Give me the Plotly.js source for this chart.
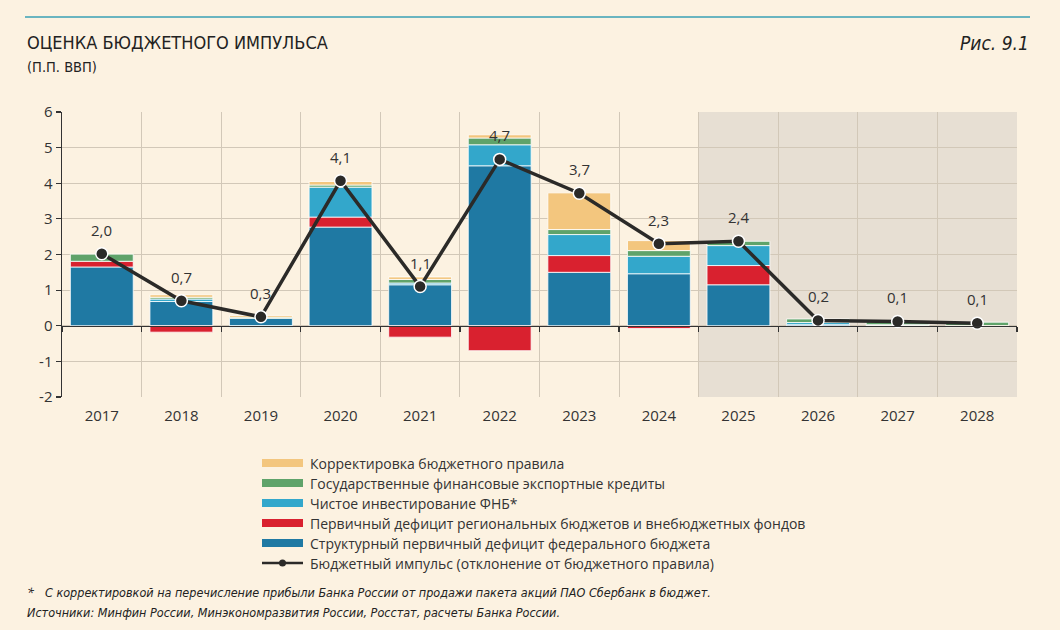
<!DOCTYPE html>
<html>
<head>
<meta charset="utf-8">
<script src="https://cdn.plot.ly/plotly-3.0.1.min.js"></script>
<style>
  html, body { margin: 0; padding: 0; background: #FCF2E1; }
  #chart { width: 1060px; height: 630px; }
</style>
</head>
<body>
<div id="chart"></div>
<script>
// ---- Data ----
const years = ['2017','2018','2019','2020','2021','2022','2023','2024','2025','2026','2027','2028'];
const structuralFederal = [1.65, 0.68, 0.21, 2.77, 1.15, 4.49, 1.50, 1.46, 1.15, 0.03, 0.01, null];
const regionalDeficit   = [0.16, -0.18, null, 0.28, -0.32, -0.70, 0.47, -0.08, 0.54, null, null, null];
const fnbInvestment     = [null, 0.07, -0.04, 0.84, 0.05, 0.59, 0.59, 0.49, 0.56, 0.06, 0.02, null];
const exportCredits     = [0.20, 0.05, 0.03, 0.06, 0.10, 0.19, 0.14, 0.16, 0.12, 0.10, 0.08, 0.10];
const ruleCorrection    = [null, 0.07, 0.05, 0.10, 0.07, 0.09, 1.03, 0.28, null, null, -0.02, -0.03];
const budgetImpulse     = [2.02, 0.70, 0.25, 4.07, 1.10, 4.67, 3.72, 2.30, 2.37, 0.15, 0.12, 0.07];
const impulseLabels     = ['2,0','0,7','0,3','4,1','1,1','4,7','3,7','2,3','2,4','0,2','0,1','0,1'];
const forecastYears     = ['2025','2026','2027','2028'];

const seriesNames = [
  'Корректировка бюджетного правила',
  'Государственные финансовые экспортные кредиты',
  'Чистое инвестирование ФНБ*',
  'Первичный дефицит региональных бюджетов и внебюджетных фондов',
  'Структурный первичный дефицит федерального бюджета',
  'Бюджетный импульс (отклонение от бюджетного правила)'
];
const yTicks = [-2, -1, 0, 1, 2, 3, 4, 5, 6];

// ---- Styles ----
const C = {
  blue: '#1F79A3', red: '#D9212F', lblue: '#33A7CB', green: '#5FA36A', orange: '#F3C67E',
  line: '#2B2A28', bg: '#FCF2E1', forecast: '#E7DFD3', grid: '#D2C8B8', text: '#333333'
};
const FONT = 'Open Sans, Noto Sans, DejaVu Sans, sans-serif';
const NARROW = 'Liberation Sans Narrow, DejaVu Sans Condensed, Roboto, sans-serif';

function barTrace(name, vals, color) {
  return {
    type: 'bar', name: name, x: years, y: vals,
    marker: { color: color, line: { color: '#FFFFFF', width: 0.8 } },
    width: 0.79, hoverinfo: 'x+y+name', showlegend: false
  };
}

const traces = [
  barTrace(seriesNames[4], structuralFederal, C.blue),
  barTrace(seriesNames[3], regionalDeficit, C.red),
  barTrace(seriesNames[2], fnbInvestment, C.lblue),
  barTrace(seriesNames[1], exportCredits, C.green),
  barTrace(seriesNames[0], ruleCorrection, C.orange),
  {
    type: 'scatter', mode: 'lines+markers', name: seriesNames[5],
    x: years, y: budgetImpulse,
    line: { color: C.line, width: 3.5 },
    marker: { color: C.line, size: 12, line: { color: '#FFFFFF', width: 1.5 } },
    showlegend: false
  },
  // invisible trace to carry the zero-line axis with boundary ticks
  { type: 'scatter', mode: 'markers', x: years, y: years.map(() => 0), xaxis: 'x2',
    marker: { opacity: 0 }, hoverinfo: 'skip', showlegend: false }
];

// paper-coordinate helpers (plot area: x 62..1017, y 112..397)
const px = v => (v - 62) / 955;
const py = v => (397 - v) / 285;

const annotations = [];
const shapes = [];

// value labels above the impulse markers (category serial numbers)
years.forEach((yr, i) => {
  annotations.push({
    x: i, y: budgetImpulse[i], xref: 'x', yref: 'y', text: impulseLabels[i],
    showarrow: false, yshift: 24, font: { family: FONT, size: 15, color: C.text }
  });
});

// forecast shading
shapes.push({
  type: 'rect', xref: 'x', yref: 'paper',
  x0: years.indexOf(forecastYears[0]) - 0.5, x1: years.indexOf(forecastYears[forecastYears.length - 1]) + 0.5,
  y0: 0, y1: 1, fillcolor: C.forecast, line: { width: 0 }, layer: 'below'
});

// header
shapes.push({ type: 'line', xref: 'paper', yref: 'paper', x0: px(25), x1: px(1030), y0: py(17), y1: py(17),
  line: { color: '#3AA1B5', width: 1.5 } });
annotations.push({ xref: 'paper', yref: 'paper', x: px(25), y: py(43), xanchor: 'left', yanchor: 'middle',
  text: 'ОЦЕНКА БЮДЖЕТНОГО ИМПУЛЬСА', showarrow: false, font: { family: NARROW, size: 18, color: '#222' } });
annotations.push({ xref: 'paper', yref: 'paper', x: px(25), y: py(67), xanchor: 'left', yanchor: 'middle',
  text: '(П.П. ВВП)', showarrow: false, font: { family: NARROW, size: 14.5, color: '#222' } });
annotations.push({ xref: 'paper', yref: 'paper', x: px(1031), y: py(43), xanchor: 'right', yanchor: 'middle',
  text: '<i>Рис. 9.1</i>', showarrow: false, font: { family: NARROW, size: 19, color: '#222' } });

// custom legend
const legendColors = [C.orange, C.green, C.lblue, C.red, C.blue];
seriesNames.forEach((name, i) => {
  const yy = 463 + i * 20;
  if (i < 5) {
    shapes.push({ type: 'rect', xref: 'paper', yref: 'paper', x0: px(262), x1: px(303),
      y0: py(yy + 4), y1: py(yy - 4), fillcolor: legendColors[i], line: { width: 0 } });
  } else {
    shapes.push({ type: 'line', xref: 'paper', yref: 'paper', x0: px(262), x1: px(303),
      y0: py(yy), y1: py(yy), line: { color: C.line, width: 2.5 } });
    shapes.push({ type: 'circle', xref: 'paper', yref: 'paper', x0: px(279), x1: px(286),
      y0: py(yy + 3.5), y1: py(yy - 3.5), fillcolor: C.line, line: { width: 0 } });
  }
  annotations.push({ xref: 'paper', yref: 'paper', x: px(308), y: py(yy), xanchor: 'left', yanchor: 'middle',
    text: name, showarrow: false, font: { family: FONT, size: 14, color: C.text } });
});

// footnotes
annotations.push({ xref: 'paper', yref: 'paper', x: px(25), y: py(592), xanchor: 'left', yanchor: 'middle',
  text: '<i>*</i>', showarrow: false, font: { family: FONT, size: 12.5, color: '#222' } });
annotations.push({ xref: 'paper', yref: 'paper', x: px(43), y: py(592), xanchor: 'left', yanchor: 'middle',
  text: '<i>С корректировкой на перечисление прибыли Банка России от продажи пакета акций ПАО Сбербанк в бюджет.</i>',
  showarrow: false, font: { family: NARROW, size: 12.5, color: '#222' } });
annotations.push({ xref: 'paper', yref: 'paper', x: px(25), y: py(612), xanchor: 'left', yanchor: 'middle',
  text: '<i>Источники: Минфин России, Минэкономразвития России, Росстат, расчеты Банка России.</i>',
  showarrow: false, font: { family: NARROW, size: 12.5, color: '#222' } });

const layout = {
  width: 1060, height: 630,
  margin: { l: 62, r: 43, t: 112, b: 233 },
  paper_bgcolor: C.bg, plot_bgcolor: C.bg,
  barmode: 'relative', bargap: 0.21,
  showlegend: false,
  font: { family: FONT, size: 14, color: C.text },
  xaxis: {
    type: 'category', categoryorder: 'array', categoryarray: years, range: [-0.5, 11.5],
    tickson: 'boundaries', showgrid: true, gridcolor: C.grid, gridwidth: 1,
    ticks: '', showline: false, zeroline: false,
    tickfont: { family: FONT, size: 15, color: C.text }, ticklabelstandoff: 8
  },
  xaxis2: {
    type: 'category', categoryorder: 'array', categoryarray: years, range: [-0.5, 11.5],
    overlaying: 'x', anchor: 'free', position: 0.25, side: 'bottom',
    tickson: 'boundaries', ticks: 'outside', ticklen: 5, tickwidth: 1.2, tickcolor: '#333',
    showticklabels: false, showgrid: false, showline: true, linecolor: '#333', linewidth: 1.5, zeroline: false
  },
  yaxis: {
    range: [-2, 6], tickvals: yTicks, ticktext: yTicks.map(String),
    showgrid: true, gridcolor: C.grid, gridwidth: 1, zeroline: false,
    showline: true, linecolor: '#333', linewidth: 1.5,
    ticks: 'outside', ticklen: 5, tickcolor: '#333', tickwidth: 1.2,
    tickfont: { family: FONT, size: 15, color: C.text }
  },
  shapes: shapes,
  annotations: annotations
};

Plotly.newPlot('chart', traces, layout, { displayModeBar: false, staticPlot: true });
</script>
</body>
</html>
